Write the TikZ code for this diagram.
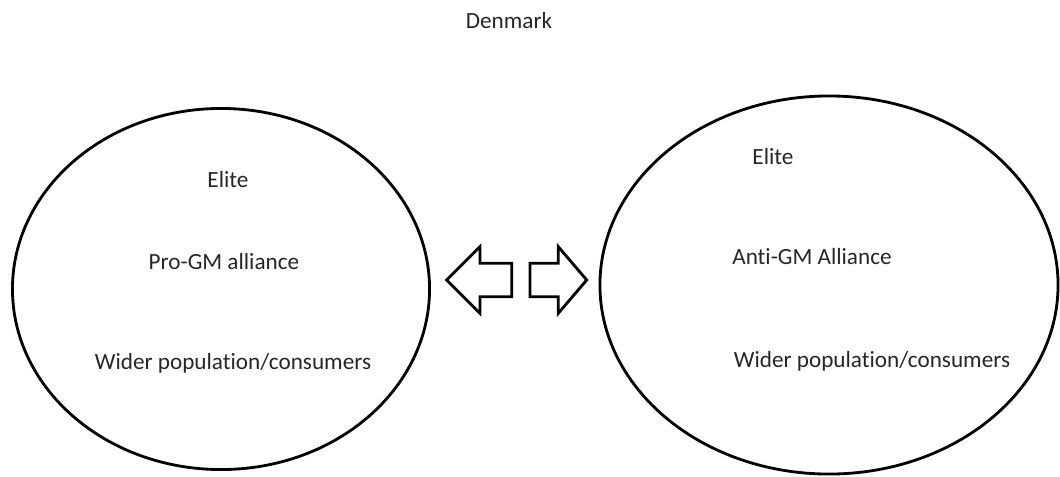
\documentclass[tikz,border=0pt]{standalone}
\usepackage{fontspec}
\setmainfont{Carlito}[Ligatures=NoCommon]
\usetikzlibrary{shapes.geometric}
\tikzset{
	group/.style    = {draw, ellipse, line width = 2pt, inner sep = 0pt},
	label/.style    = {font = \fontsize{16.5}{19}\selectfont, text = black!85},
	blockline/.style = {draw, line width = 2pt, line join = miter}
}

\begin{document}
\begin{tikzpicture}[x=0.025cm, y=-0.025cm]
\useasboundingbox (0,0) rectangle (1060,476);
\draw
% Title and the two groups
node at (509,21) [label] (title) {Denmark}
node at (221,289) [group, minimum width = 10.425cm, minimum height = 9.025cm] (pro) {}
node at (829,285) [group, minimum width = 11.45cm, minimum height = 9.45cm] (anti) {};

% Labels inside the groups
\draw
node at (228,180) [label] (proelite) {Elite}
node at (224,262) [label] (proall) {Pro-GM alliance}
node at (233,363) [label] (propop) {Wider population/consumers}
node at (773,157) [label] (antielite) {Elite}
node at (812,257) [label] (antiall) {Anti-GM Alliance}
node at (872,361) [label] (antipop) {Wider population/consumers};

% Hollow block arrows between the groups
\draw[blockline] (446.7,280) -- (480,246.7) -- (480,263.3) -- (511.7,263.3)
	-- (511.7,296.7) -- (480,296.7) -- (480,313.3) -- cycle;
\draw[blockline] (586.7,280) -- (558.3,246.7) -- (558.3,263.3) -- (530,263.3)
	-- (530,296.7) -- (558.3,296.7) -- (558.3,313.3) -- cycle;
\end{tikzpicture}
\end{document}
